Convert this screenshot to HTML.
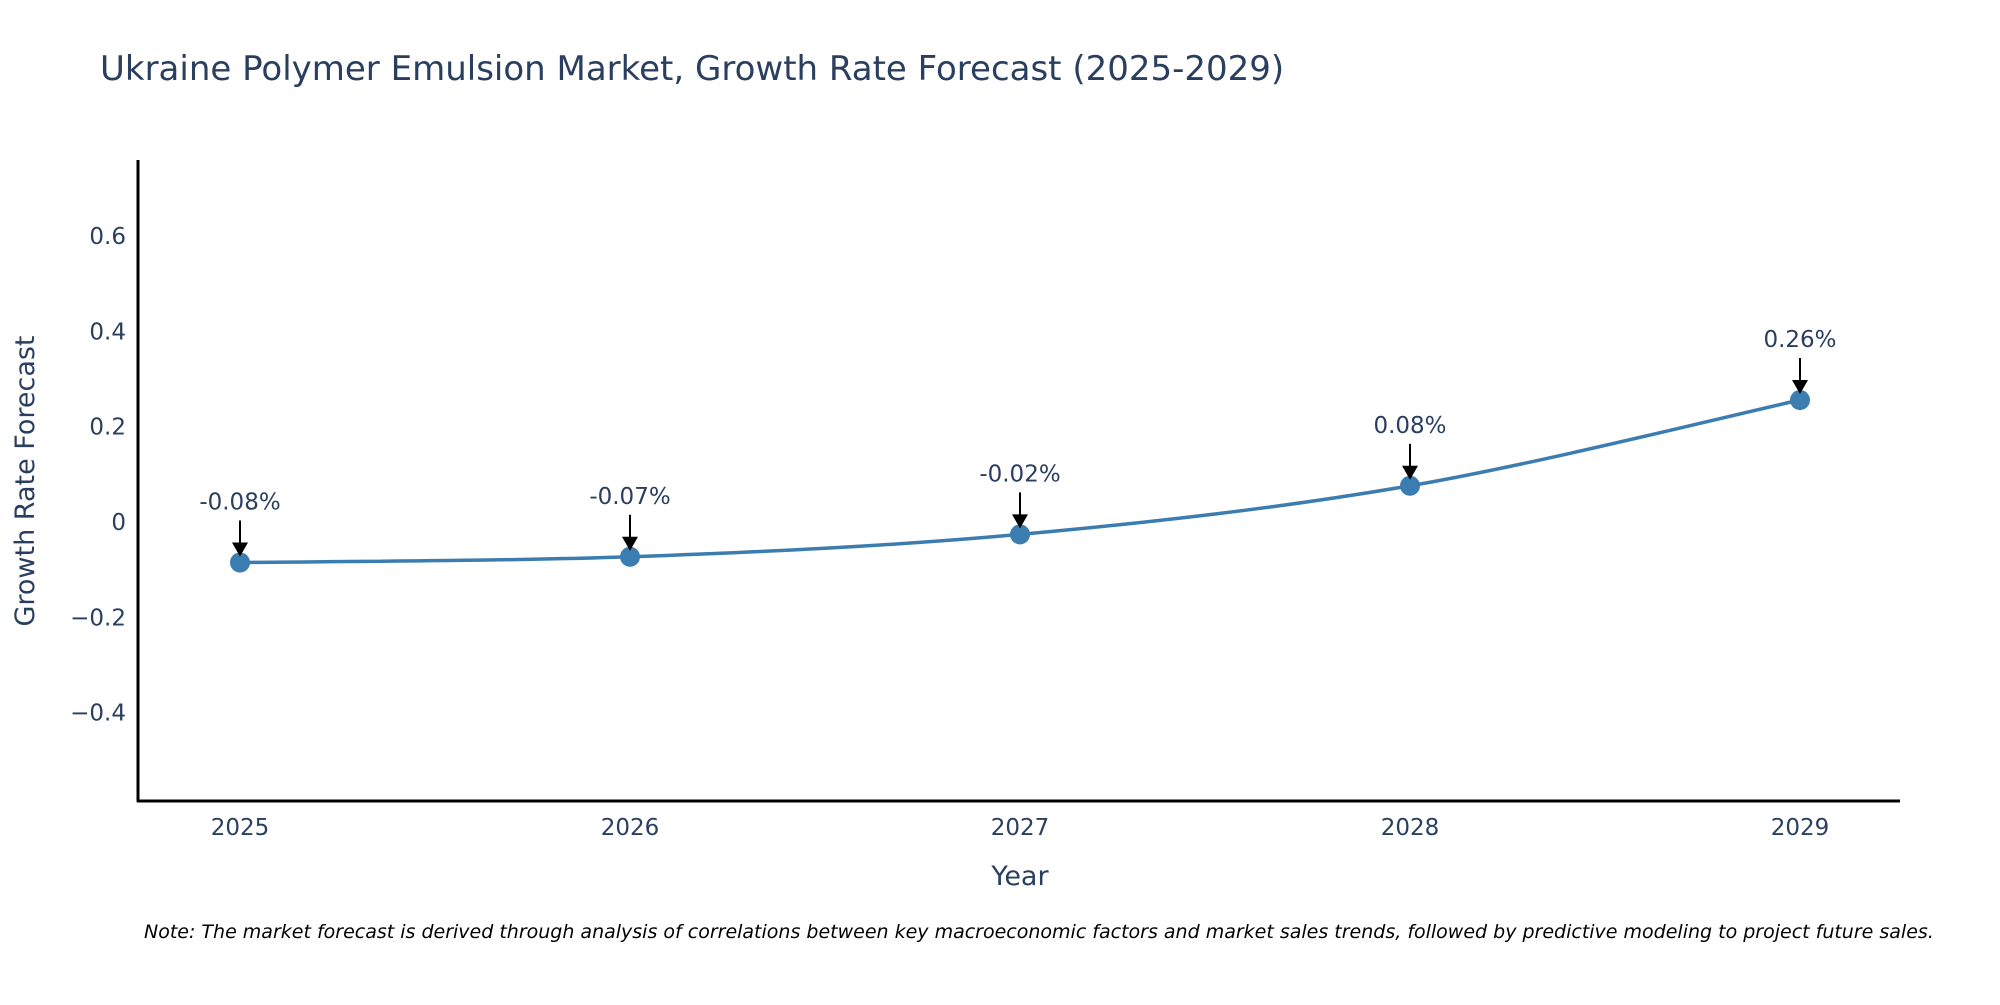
<!DOCTYPE html>
<html><head><meta charset="utf-8"><style>
body{margin:0;background:#fff}
svg{font-family:"DejaVu Sans","Liberation Sans",sans-serif}
</style></head><body>
<svg id="chart" width="2000" height="1000" viewBox="0 0 2000 1000">
<text x="100" y="80" font-size="34" fill="#2a3f5f">Ukraine Polymer Emulsion Market, Growth Rate Forecast (2025-2029)</text>
<g id="yticks"></g><g id="xticks"></g>
<text transform="translate(34,481) rotate(-90)" text-anchor="middle" font-size="27" fill="#2a3f5f">Growth Rate Forecast</text>
<text x="1020" y="885" text-anchor="middle" font-size="27" fill="#2a3f5f">Year</text>
<line x1="138" y1="160" x2="138" y2="802" stroke="#000" stroke-width="3"/>
<line x1="137" y1="801" x2="1900" y2="801" stroke="#000" stroke-width="3"/>
<g id="series"></g>
<text x="144" y="938" font-size="19" font-style="italic" fill="#000">Note: The market forecast is derived through analysis of correlations between key macroeconomic factors and market sales trends, followed by predictive modeling to project future sales.</text>
</svg>
<script>
const years=["2025","2026","2027","2028","2029"];
const growth=[-0.085,-0.073,-0.026,0.076,0.256];
const labels=["-0.08%","-0.07%","-0.02%","0.08%","0.26%"];
const yTicks=[-0.4,-0.2,0,0.2,0.4,0.6];
const yTickLabels=["\u22120.4","\u22120.2","0","0.2","0.4","0.6"];
const NS="http://www.w3.org/2000/svg";
function xs(i){return 240+i*390;}
function ys(v){return 522-v*476.5;}
function mk(t,a,p){const e=document.createElementNS(NS,t);for(const k in a)e.setAttribute(k,a[k]);p.appendChild(e);return e;}
const yt=document.getElementById('yticks');
yTicks.forEach((v,i)=>{const t=mk('text',{x:126,y:ys(v)+8,'text-anchor':'end','font-size':23,fill:'#2a3f5f'},yt);t.textContent=yTickLabels[i];

});
const xt=document.getElementById('xticks');
years.forEach((y,i)=>{const t=mk('text',{x:xs(i),y:835,'text-anchor':'middle','font-size':23,fill:'#2a3f5f'},xt);t.textContent=y;

});
const g=document.getElementById('series');
const P=growth.map((v,i)=>[xs(i),ys(v)]);
let d='M'+P[0][0]+','+P[0][1];
for(let i=0;i<P.length-1;i++){const p0=P[Math.max(0,i-1)],p1=P[i],p2=P[i+1],p3=P[Math.min(P.length-1,i+2)];const s=1/6;
d+=' C'+(p1[0]+(p2[0]-p0[0])*s)+','+(p1[1]+(p2[1]-p0[1])*s)+' '+(p2[0]-(p3[0]-p1[0])*s)+','+(p2[1]-(p3[1]-p1[1])*s)+' '+p2[0]+','+p2[1];}
const path=mk('path',{d:d,fill:'none',stroke:'#3b7db0','stroke-width':3.5},g);


P.forEach((p,i)=>{
const c=mk('circle',{cx:p[0],cy:p[1],r:10,fill:'#3b7db0'},g);


const l=mk('line',{x1:p[0],y1:p[1]-42,x2:p[0],y2:p[1]-18,stroke:'#000','stroke-width':2},g);


const h=mk('polygon',{points:(p[0]-8)+','+(p[1]-20)+' '+(p[0]+8)+','+(p[1]-20)+' '+p[0]+','+(p[1]-6),fill:'#000'},g);


const t=mk('text',{x:p[0],y:p[1]-53,'text-anchor':'middle','font-size':23,fill:'#2a3f5f'},g);t.textContent=labels[i];


});
</script>
</body></html>
